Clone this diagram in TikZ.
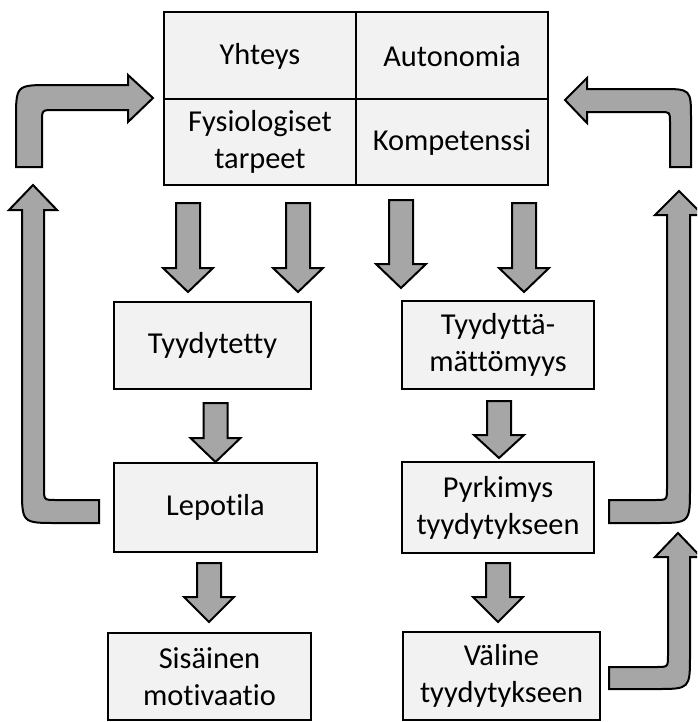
\documentclass[tikz,border=0pt]{standalone}
\usepackage{fontspec}
\setmainfont[Ligatures=NoCommon]{Carlito}
\definecolor{boxfill}{HTML}{F2F2F2}
\definecolor{arrowfill}{HTML}{A6A6A6}
\tikzset{
  x=0.75pt, y=-0.75pt,
  label font/.style={font=\fontsize{22.8}{27.75}\selectfont},
  box/.style={draw=black, line width=1.5pt, fill=boxfill, rectangle,
    inner sep=0pt, outer sep=0pt, align=center, label font},
  cell/.style={inner sep=0pt, align=center, label font},
  blockarrow/.style={draw=black, line width=1.5pt, fill=arrowfill, line join=miter},
}
% straight downward block arrow: centre x, top y, head base y, tip y
\newcommand{\downblock}[4]{%
  \draw[blockarrow] (#1-12,#2) -- (#1+12,#2) -- (#1+12,#3) -- (#1+25,#3)
    -- (#1,#4) -- (#1-25,#3) -- (#1-12,#3) -- cycle;}
\begin{document}
\begin{tikzpicture}
\useasboundingbox (0,0) rectangle (697,722);
\clip (0,0) rectangle (697,722);

% four basic needs
\node[box, minimum width=384*0.75pt, minimum height=173*0.75pt] (needs) at (356,98.5) {};
\draw[line width=1.5pt] (needs.north) -- (needs.south);
\draw[line width=1.5pt] (needs.west) -- (needs.east);
\node[cell] (yhteys) at (260,56) {Yhteys};
\node[cell] (autonomia) at (452,56) {Autonomia};
\node[cell] (fysio) at (260,142) {Fysiologiset\\tarpeet};
\node[cell] (kompetenssi) at (452,142) {Kompetenssi};

% left column
\node[box, minimum width=197*0.75pt, minimum height=87*0.75pt] (tyyd) at (212.5,345.5) {Tyydytetty};
\node[box, minimum width=203*0.75pt, minimum height=89*0.75pt] (lepo) at (215.5,507.5) {Lepotila};
\node[box, minimum width=203*0.75pt, minimum height=87*0.75pt] (sisa) at (209.5,676.5) {Sisäinen\\motivaatio};

% right column
\node[box, minimum width=192*0.75pt, minimum height=88*0.75pt] (tyydm) at (498,345) {Tyydyttä-\\mättömyys};
\node[box, minimum width=192*0.75pt, minimum height=91*0.75pt] (pyrk) at (498,507.5) {Pyrkimys\\tyydytykseen};
\node[box, minimum width=197*0.75pt, minimum height=88*0.75pt] (valine) at (501.5,676) {Väline\\tyydytykseen};

% downward block arrows
\downblock{188}{203}{268}{292}
\downblock{298}{203}{268}{292}
\downblock{401}{200}{264}{288}
\downblock{524}{203}{268}{292}
\downblock{215.5}{403}{438}{462}
\downblock{209}{563}{597}{622}
\downblock{499}{401}{435}{458}
\downblock{498}{563}{597}{622}

% left: from Lepotila up the side
\draw[blockarrow] (99,523) -- (57,523) .. controls (22,523) .. (22,488) -- (22,210)
  -- (9,210) -- (33,185) -- (57,210) -- (44,210) -- (44,488)
  .. controls (44,500) .. (56,500) -- (99,500) -- cycle;
% left: bend back into the needs box
\draw[blockarrow] (16,167) -- (16,120) .. controls (16,85) .. (51,85) -- (128,85)
  -- (128,75) -- (153,98) -- (128,122) -- (128,110) -- (54,110)
  .. controls (42,110) .. (42,122) -- (42,167) -- cycle;

% right: bend back into the needs box
\draw[blockarrow] (565,100) -- (587,78) -- (587,89) -- (661,89)
  .. controls (691,89) .. (691,119) -- (691,167) -- (670,167) -- (670,122)
  .. controls (670,112) .. (660,112) -- (587,112) -- (587,123) -- cycle;
% right: from Pyrkimys up the side
\draw[blockarrow] (609,500) -- (655,500) .. controls (667,500) .. (667,488) -- (667,215)
  -- (655,215) -- (679,191) -- (703,215) -- (690,215) -- (690,488)
  .. controls (690,523) .. (655,523) -- (609,523) -- cycle;
% right: from Väline up the side
\draw[blockarrow] (609,667) -- (656,667) .. controls (668,667) .. (668,655) -- (668,557)
  -- (655,557) -- (678,533) -- (701,557) -- (690,557) -- (690,655)
  .. controls (690,689) .. (656,689) -- (609,689) -- cycle;
\end{tikzpicture}
\end{document}
